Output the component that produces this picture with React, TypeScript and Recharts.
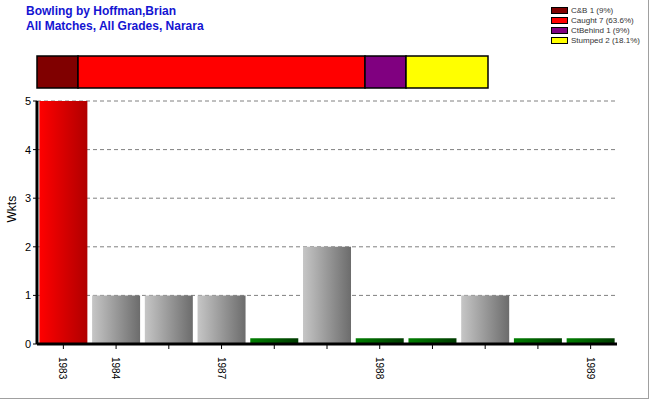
import React from 'react'
import { BarChart, Bar, XAxis, YAxis, CartesianGrid, Cell } from 'recharts'

// main chart: wickets per season
const seasons = ['1983', '1984', '', '1987', '', '', '1988', '', '', '', '1989']
const wickets = [5, 1, 1, 1, 0.12, 2, 0.12, 0.12, 1, 0.12, 0.12]
const barShade = ['red', 'gray', 'gray', 'gray', 'green', 'gray', 'green', 'green', 'gray', 'green', 'green']
const yTicks = [0, 1, 2, 3, 4, 5]

// dismissal breakdown
const dismissKeys = ['cb', 'caught', 'ctb', 'stumped']
const dismissCounts = [1, 7, 1, 2]
const dismissLabels = ['C&B 1 (9%)', 'Caught 7 (63.6%)', 'CtBehind 1 (9%)', 'Stumped 2 (18.1%)']
const dismissColors = ['#800000', '#ff0000', '#800080', '#ffff00']

const mainData = seasons.map((s, i) => ({ slot: i, season: s, wkts: wickets[i] }))
const dismissRow: Record<string, any> = { name: 'all' }
dismissKeys.forEach((k, i) => { dismissRow[k] = dismissCounts[i] })

const font = 'Arial, "Liberation Sans", sans-serif'

const SeasonTick = (props: any) => {
  const { x, y, payload } = props
  const label = seasons[payload.value] ?? ''
  return (
    <g transform={`translate(${x},${y})`}>
      <text transform="rotate(90)" x={6} y={4} fontSize={10} fontFamily={font} fill="#000" textAnchor="start">
        {label}
      </text>
    </g>
  )
}

const DismissLegend = () => (
  <div style={{ fontFamily: font, fontSize: 8, color: '#333' }}>
    {dismissLabels.map((l, i) => (
      <div key={l} style={{ display: 'flex', alignItems: 'center', height: 10 }}>
        <span style={{ display: 'inline-block', width: 15, height: 5, background: dismissColors[i], border: '1px solid #000', marginRight: 3 }} />
        <span>{l}</span>
      </div>
    ))}
  </div>
)

export default function App() {
  return (
    <div style={{ position: 'absolute', left: 0, top: 0, width: 650, height: 400, background: '#fff', fontFamily: font }}>
      <div style={{ position: 'absolute', left: 0, top: 0, width: 648, height: 398, borderRight: '1px solid #a0a0a0', borderBottom: '1px solid #a0a0a0' }} />
      <div style={{ position: 'absolute', left: 26, top: 4, color: '#1414d2', fontWeight: 'bold', fontSize: 12, lineHeight: '15px' }}>
        <div>Bowling by Hoffman,Brian</div>
        <div>All Matches, All Grades, Narara</div>
      </div>

      <div style={{ position: 'absolute', left: 0, top: 0 }}>
        <BarChart width={650} height={400} data={mainData} margin={{ top: 101, right: 33, bottom: 16, left: 0 }} barCategoryGap="4.5%">
          <defs>
            <linearGradient id="g-red" x1="0" y1="0" x2="1" y2="0">
              <stop offset="0%" stopColor="#ff0000" />
              <stop offset="100%" stopColor="#b00000" />
            </linearGradient>
            <linearGradient id="g-gray" x1="0" y1="0" x2="1" y2="0">
              <stop offset="0%" stopColor="#c6c6c6" />
              <stop offset="100%" stopColor="#6c6c6c" />
            </linearGradient>
            <linearGradient id="g-green" x1="0" y1="0" x2="1" y2="0">
              <stop offset="0%" stopColor="#008000" />
              <stop offset="100%" stopColor="#003a00" />
            </linearGradient>
          </defs>
          <CartesianGrid stroke="#808080" strokeDasharray="4 3" vertical={false} />
          <XAxis
            dataKey="slot"
            type="category"
            height={40}
            tick={<SeasonTick />}
            interval={0}
            tickLine={{ stroke: '#000' }}
            tickSize={5}
            axisLine={{ stroke: '#000', strokeWidth: 3 }}
          />
          <YAxis
            width={37}
            domain={[0, 5]}
            ticks={yTicks}
            tick={{ fontSize: 11, fill: '#000', fontFamily: font }}
            tickSize={4}
            tickLine={{ stroke: '#000' }}
            axisLine={{ stroke: '#000', strokeWidth: 3 }}
            label={{ value: 'Wkts', angle: -90, position: 'insideLeft', offset: 12, style: { fontSize: 12, fill: '#000', fontFamily: font } }}
          />
          <Bar dataKey="wkts" isAnimationActive={false}>
            {mainData.map((d, i) => (
              <Cell key={i} fill={`url(#g-${barShade[i]})`} />
            ))}
          </Bar>
        </BarChart>
      </div>

      <div style={{ position: 'absolute', left: 0, top: 0 }}>
        <BarChart width={650} height={100} layout="vertical" data={[dismissRow]} margin={{ top: 56, right: 162, bottom: 12, left: 37 }} barCategoryGap={0}>
          <XAxis type="number" domain={[0, 11]} hide />
          <YAxis type="category" dataKey="name" hide />
          {dismissKeys.map((k, i) => (
            <Bar key={k} dataKey={k} stackId="d" fill={dismissColors[i]} stroke="#000" strokeWidth={1.5} isAnimationActive={false} />
          ))}
        </BarChart>
      </div>

      <div style={{ position: 'absolute', left: 551, top: 5 }}>
        <DismissLegend />
      </div>
    </div>
  )
}
